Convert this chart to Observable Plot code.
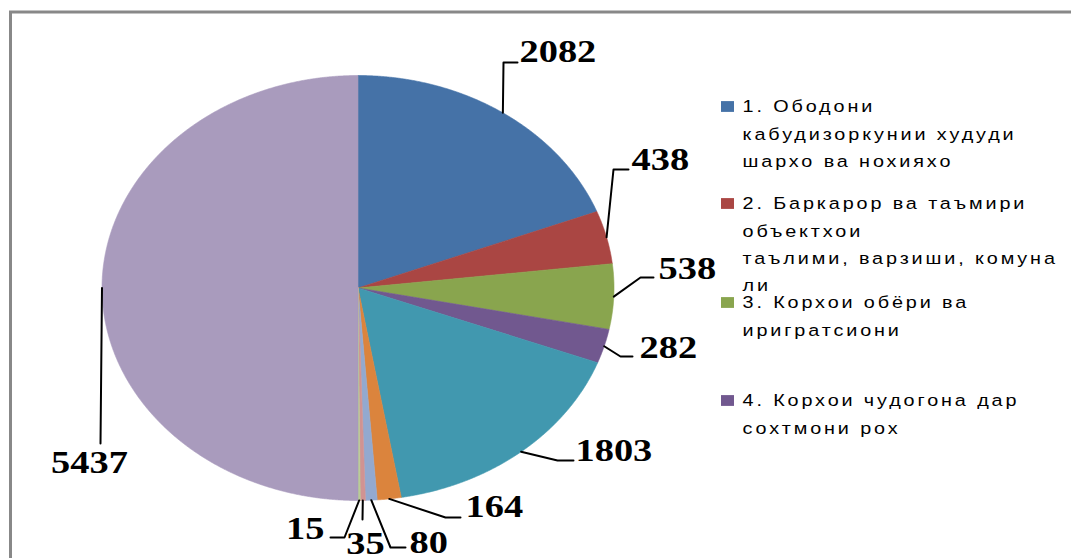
<!DOCTYPE html>
<html>
<head>
<meta charset="utf-8">
<script src="https://cdn.jsdelivr.net/npm/d3@7"></script>
<script src="https://cdn.jsdelivr.net/npm/@observablehq/plot@0.6"></script>
<style>
  html, body { margin: 0; padding: 0; background: #fff; overflow: hidden; }
  #chart svg { display: block; }
</style>
</head>
<body>
<div id="chart"></div>
<script>
// ---------- data ----------
const categories = [
  "1. Ободони кабудизоркунии худуди шархо ва нохияхо",
  "2. Баркарор ва таъмири объектхои таълими, варзиши, комунали",
  "3. Корхои обёри ва иригратсиони",
  "4. Корхои чудогона дар сохтмони рох",
  "5", "6", "7", "8", "9", "10"
];
const values = [2082, 438, 538, 282, 1803, 164, 80, 35, 15, 5437];
const sliceColors = ["#4572A7", "#AA4643", "#89A54E", "#71588F", "#4198AF",
                     "#DB843D", "#93A9CF", "#D19392", "#B9CD96", "#A99BBD"];
const legendLabels = [
  "1. Ободони\nкабудизоркунии худуди\nшархо ва нохияхо",
  "2. Баркарор ва таъмири\nобъектхои\nтаълими, варзиши, комуна\nли",
  "3. Корхои обёри ва\nиригратсиони",
  "4. Корхои чудогона дар\nсохтмони рох"
];

// ---------- layout (pixels) ----------
const W = 1071, H = 558;
const CX = 357.5, CY = 287.5, RX = 256, RY = 212.5;
const STRETCH = 1.2; // horizontal stretch of the original picture
const toX = px => (px - CX) / RX;
const toY = py => (CY - py) / RY;
// leader line bends, ends and label anchors for each slice
const labelLayout = [
  {pts: [[503, 62], [517, 62]],   at: [519, 61],  anchor: "start"},
  {pts: [[613, 169], [628, 169]], at: [631, 169], anchor: "start"},
  {pts: [[640, 277], [653, 277]], at: [658, 278], anchor: "start"},
  {pts: [[620, 356], [632, 356]], at: [639, 357], anchor: "start"},
  {pts: [[557, 460], [573, 460]], at: [575, 460], anchor: "start"},
  {pts: [[445, 517], [460, 517]], at: [465, 516], anchor: "start"},
  {pts: [[390, 547], [405, 547]], at: [409, 552], anchor: "start"},
  {pts: [[362, 519]],             at: [365, 553], anchor: "middle"},
  {pts: [[344, 537], [330, 537]], at: [324, 538], anchor: "end"},
  {pts: [[100, 443]],             at: [89, 472],  anchor: "middle"}
];
const legendX = 742, legendSwatchX = 727;
const legendFont = 16.5, legendLineHeight = 1.65;
const legendBaselines = [112, 209, 308, 406];

// ---------- geometry from data ----------
const arcs = d3.pie().sort(null).value(d => d)(values);
const slicePts = [];
arcs.forEach((a, i) => {
  const cat = categories[i];
  const n = Math.max(2, Math.ceil((a.endAngle - a.startAngle) / 0.004));
  slicePts.push({cat, x: 0, y: 0});
  for (let k = 0; k <= n; ++k) {
    const t = a.startAngle + (a.endAngle - a.startAngle) * k / n;
    slicePts.push({cat, x: Math.sin(t), y: Math.cos(t)});
  }
  slicePts.push({cat, x: 0, y: 0});
});

const leaderPts = [];
const labelData = [];
arcs.forEach((a, i) => {
  const mid = (a.startAngle + a.endAngle) / 2;
  leaderPts.push({i, x: Math.sin(mid), y: Math.cos(mid)});
  labelLayout[i].pts.forEach(([px, py]) => leaderPts.push({i, x: toX(px), y: toY(py)}));
  labelData.push({
    text: String(values[i]),
    x: toX(labelLayout[i].at[0]),
    y: toY(labelLayout[i].at[1]),
    anchor: labelLayout[i].anchor
  });
});

// Plot's "top" line anchor puts the first baseline 0.71 line-heights below y
const firstLineOffset = 0.71 * legendLineHeight * legendFont;
const legendData = legendLabels.map((label, i) => ({
  label,
  cat: categories[i],
  top: toY(legendBaselines[i] - firstLineOffset),
  mid: toY(legendBaselines[i] - 6),
  x: toX(legendX),
  sx: toX(legendSwatchX)
}));

const labelStyle = {
  fontFamily: "Liberation Serif, Times New Roman, serif",
  fontWeight: "bold",
  fontSize: 32,
  fill: "#000",
  lineAnchor: "bottom"
};

const chart = Plot.plot({
  width: W,
  height: H,
  margin: 0,
  style: {background: "#fff"},
  x: {domain: [-1, 1], range: [CX - RX, CX + RX], axis: null},
  y: {domain: [-1, 1], range: [CY + RY, CY - RY], axis: null},
  color: {domain: categories, range: sliceColors},
  marks: [
    Plot.frame({stroke: "#888", strokeWidth: 3, insetLeft: 10, insetTop: 11.5, insetRight: -10, insetBottom: -10}),
    Plot.line(slicePts, {x: "x", y: "y", z: "cat", fill: "cat", stroke: "cat", strokeWidth: 0.6, curve: "linear"}),
    Plot.line(leaderPts, {x: "x", y: "y", z: "i", stroke: "#000", strokeWidth: 2, curve: "linear"}),
    ...["start", "middle", "end"].map(anchor =>
      Plot.text(labelData.filter(d => d.anchor === anchor), {
        x: "x", y: "y", text: "text", textAnchor: anchor, ...labelStyle
      })
    ),
    Plot.dot(legendData, {x: "sx", y: "mid", symbol: "square", r: 6.1, fill: "cat", stroke: null}),
    Plot.text(legendData, {
      x: "x", y: "top", text: "label", textAnchor: "start", lineAnchor: "top",
      lineHeight: legendLineHeight, fontSize: legendFont, fill: "#000",
      fontFamily: "Liberation Sans, Arial, sans-serif",
      ariaDescription: "legend"
    })
  ]
});

// stretch text and swatches horizontally like the original picture
const sel = d3.select(chart);
sel.selectAll('g[aria-label="text"] > text, g[aria-label="dot"] > path')
  .each(function () {
    const t = this.getAttribute("transform") || "";
    this.setAttribute("transform", t + ` scale(${STRETCH},1)`);
  });
sel.selectAll('g[aria-description="legend"] > text').style("letter-spacing", "2.4px");

document.getElementById("chart").appendChild(chart);
</script>
</body>
</html>
